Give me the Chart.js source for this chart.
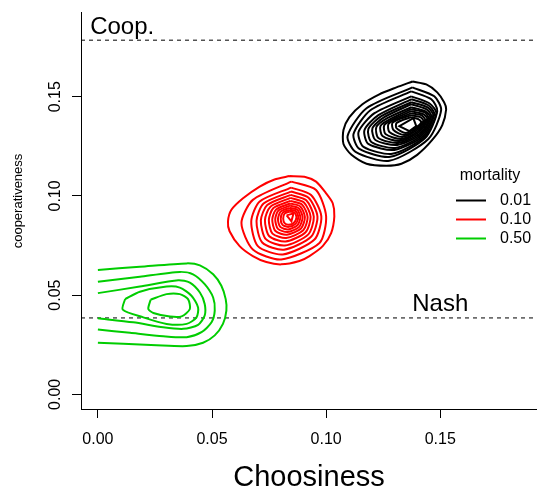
<!DOCTYPE html>
<html>
<head>
<meta charset="utf-8">
<script src="https://cdn.jsdelivr.net/npm/chart.js@4.4.1/dist/chart.umd.min.js"></script>
<style>
  html, body { margin: 0; padding: 0; background: #fff; }
</style>
</head>
<body>
<canvas id="graphiqueContours" width="537" height="490"></canvas>
<script>
// axes
const xRange = [-0.0074, 0.1924];
const yRange = [-0.0074, 0.1924];
const tickValues = [0, 0.05, 0.10, 0.15];
const tickLabels = ['0.00', '0.05', '0.10', '0.15'];

// reference lines
const coopLevel = 0.1785;
const nashLevel = 0.0385;

// legend
const mortalityLabels = ['0.01', '0.10', '0.50'];

// contour lines, mortality 0.01 (outer -> inner)
const blackRings = [
  [[.1378,.1577],[.1439,.1562],[.1487,.1522],[.1517,.1472],[.1526,.1437],[.1509,.1357],[.1465,.1282],[.1399,.1207],[.1330,.1162],[.1264,.1152],[.1177,.1162],[.1111,.1207],[.1076,.1262],[.1076,.1332],[.1102,.1397],[.1159,.1462],[.1233,.1512],[.1308,.1547]],
  [[.1378,.1547],[.1474,.1502],[.1504,.1432],[.1448,.1287],[.1277,.1177],[.1129,.1222],[.1094,.1302],[.1177,.1442]],
  [[.1373,.1527],[.1461,.1487],[.1487,.1427],[.1434,.1292],[.1281,.1197],[.1146,.1237],[.1120,.1312],[.1194,.1432]],
  [[.1373,.1502],[.1452,.1467],[.1483,.1417],[.1430,.1297],[.1290,.1212],[.1164,.1247],[.1142,.1322],[.1212,.1417]],
  [[.1373,.1487],[.1448,.1457],[.1474,.1412],[.1426,.1302],[.1299,.1232],[.1185,.1262],[.1168,.1332],[.1229,.1407]],
  [[.1373,.1472],[.1443,.1447],[.1469,.1407],[.1421,.1307],[.1303,.1242],[.1198,.1272],[.1185,.1337],[.1242,.1402]],
  [[.1373,.1462],[.1439,.1437],[.1461,.1402],[.1417,.1312],[.1312,.1257],[.1216,.1282],[.1203,.1342],[.1255,.1397]],
  [[.1373,.1447],[.1434,.1427],[.1456,.1397],[.1413,.1317],[.1316,.1267],[.1229,.1292],[.1220,.1347],[.1268,.1392]],
  [[.1373,.1437],[.1430,.1422],[.1448,.1392],[.1408,.1322],[.1321,.1277],[.1247,.1302],[.1238,.1352],[.1281,.1387]],
  [[.1373,.1427],[.1426,.1412],[.1443,.1387],[.1404,.1327],[.1330,.1287],[.1260,.1312],[.1255,.1357],[.1295,.1387]],
  [[.1373,.1417],[.1417,.1407],[.1434,.1382],[.1399,.1332],[.1334,.1297],[.1277,.1322],[.1273,.1362],[.1308,.1387]],
  [[.1373,.1407],[.1413,.1397],[.1426,.1377],[.1395,.1337],[.1343,.1307],[.1295,.1332],[.1290,.1367],[.1321,.1387]],
  [[.1373,.1397],[.1404,.1387],[.1417,.1372],[.1391,.1342],[.1347,.1317],[.1308,.1342],[.1308,.1367],[.1334,.1382]],
  [[.1382,.1392],[.1395,.1352],[.1365,.1327],[.1321,.1352]]
];

// contour lines, mortality 0.10
const redRings = [
  [[.0840,.1100],[.0905,.1097],[.0956,.1072],[.1000,.1013],[.1029,.0963],[.1036,.0897],[.1022,.0813],[.0985,.0747],[.0927,.0697],[.0883,.0672],[.0803,.0655],[.0738,.0667],[.0679,.0697],[.0621,.0747],[.0577,.0822],[.0570,.0872],[.0585,.0930],[.0636,.0988],[.0709,.1047],[.0774,.1083]],
  [[.0847,.1072],[.0956,.1030],[.1000,.0897],[.0971,.0763],[.0803,.0680],[.0679,.0730],[.0629,.0863],[.0679,.0980]],
  [[.0847,.1042],[.0934,.1005],[.0979,.0897],[.0949,.0780],[.0810,.0705],[.0701,.0747],[.0672,.0872],[.0709,.0972]],
  [[.0846,.1022],[.0923,.0991],[.0962,.0896],[.0934,.0794],[.0815,.0729],[.0720,.0765],[.0695,.0874],[.0726,.0962]],
  [[.0845,.1005],[.0913,.0978],[.0946,.0895],[.0922,.0806],[.0819,.0750],[.0736,.0782],[.0714,.0876],[.0742,.0954]],
  [[.0844,.0990],[.0903,.0967],[.0932,.0895],[.0910,.0817],[.0822,.0770],[.0751,.0797],[.0732,.0878],[.0756,.0946]],
  [[.0843,.0975],[.0895,.0956],[.0919,.0894],[.0900,.0827],[.0825,.0788],[.0765,.0810],[.0749,.0879],[.0769,.0939]],
  [[.0843,.0962],[.0887,.0947],[.0907,.0893],[.0890,.0836],[.0828,.0804],[.0778,.0823],[.0764,.0881],[.0781,.0932]],
  [[.0842,.0951],[.0880,.0938],[.0897,.0893],[.0882,.0844],[.0831,.0818],[.0789,.0834],[.0777,.0882],[.0791,.0926]],
  [[.0841,.0940],[.0874,.0930],[.0887,.0892],[.0874,.0852],[.0833,.0831],[.0799,.0844],[.0789,.0883],[.0801,.0921]],
  [[.0840,.0930],[.0868,.0923],[.0878,.0892],[.0866,.0859],[.0836,.0844],[.0809,.0854],[.0801,.0885],[.0810,.0916]],
  [[.0840,.0921],[.0862,.0916],[.0870,.0892],[.0859,.0865],[.0837,.0855],[.0818,.0863],[.0812,.0886],[.0818,.0911]],
  [[.0827,.0902],[.0857,.0912],[.0848,.0872]]
];

// contour lines, mortality 0.50 (the outer three are cut at choosiness 0)
const greenOpen = [
  [[0,.0627],[.0184,.0643],[.0389,.0660],[.0447,.0650],[.0505,.0605],[.0541,.0547],[.0560,.0480],[.0563,.0422],[.0548,.0355],[.0512,.0297],[.0461,.0260],[.0389,.0243],[.0257,.0247],[.0111,.0255],[0,.0260]],
  [[0,.0567],[.0184,.0593],[.0359,.0617],[.0417,.0605],[.0468,.0555],[.0505,.0488],[.0512,.0422],[.0498,.0363],[.0454,.0313],[.0389,.0288],[.0286,.0293],[.0141,.0310],[0,.0327]],
  [[0,.0510],[.0184,.0543],[.0352,.0575],[.0403,.0563],[.0447,.0513],[.0468,.0455],[.0468,.0397],[.0439,.0350],[.0374,.0330],[.0286,.0338],[.0155,.0363],[0,.0383]]
];
const greenClosed = [
  [[.0119,.0480],[.0184,.0517],[.0301,.0543],[.0359,.0538],[.0410,.0497],[.0439,.0438],[.0432,.0388],[.0389,.0355],[.0301,.0355],[.0199,.0388],[.0109,.0427]],
  [[.0231,.0477],[.0301,.0505],[.0359,.0505],[.0395,.0480],[.0403,.0430],[.0367,.0393],[.0316,.0392],[.0243,.0410],[.0221,.0430]]
];

const FONT = '"Liberation Sans", Arial, Helvetica, sans-serif';
const couleurs = ['#000000', '#ff0000', '#00cd00'];

const ligneContour = (ring, couleur, ferme) => {
  const pts = ring.map(p => ({ x: p[0], y: p[1] }));
  if (ferme) pts.push({ x: ring[0][0], y: ring[0][1] });
  return {
    data: pts,
    showLine: true,
    borderColor: couleur,
    borderWidth: 2,
    pointRadius: 0,
    pointHoverRadius: 0,
    tension: ring.length > 4 ? 0.25 : 0,
    fill: false
  };
};

const ligneRef = (niveau) => ({
  data: [{ x: xRange[0], y: niveau }, { x: xRange[1], y: niveau }],
  showLine: true,
  borderColor: '#000',
  borderWidth: 1,
  borderDash: [4, 4],
  pointRadius: 0,
  fill: false
});

const datasets = [
  ...blackRings.map(r => ligneContour(r, couleurs[0], true)),
  ...redRings.map(r => ligneContour(r, couleurs[1], true)),
  ...greenOpen.map(r => ligneContour(r, couleurs[2], false)),
  ...greenClosed.map(r => ligneContour(r, couleurs[2], true)),
  ligneRef(coopLevel),
  ligneRef(nashLevel)
];

// texts that R puts around the plot
const annotations = {
  id: 'annotations',
  afterDraw(chart) {
    const { ctx, chartArea } = chart;
    const x = chart.scales.x, y = chart.scales.y;
    ctx.save();
    ctx.fillStyle = '#000';

    // y tick labels, written along the axis
    ctx.font = '16px ' + FONT;
    ctx.textAlign = 'center';
    ctx.textBaseline = 'alphabetic';
    tickValues.forEach((v, i) => {
      ctx.save();
      ctx.translate(60, y.getPixelForValue(v));
      ctx.rotate(-Math.PI / 2);
      ctx.fillText(tickLabels[i], 0, 0);
      ctx.restore();
    });

    // Coop. / Nash
    ctx.font = '24px ' + FONT;
    ctx.textAlign = 'left';
    ctx.fillText('Coop.', x.getPixelForValue(-0.0034), y.getPixelForValue(0.1818));
    ctx.textAlign = 'center';
    ctx.fillText('Nash', x.getPixelForValue(0.15), y.getPixelForValue(0.0422));

    // axis titles
    ctx.font = '29px ' + FONT;
    ctx.fillText('Choosiness', (chartArea.left + chartArea.right) / 2, 486);
    ctx.save();
    ctx.translate(22, 201);
    ctx.rotate(-Math.PI / 2);
    ctx.font = '13px ' + FONT;
    ctx.fillText('cooperativeness', 0, 0);
    ctx.restore();

    // legend
    ctx.font = '16px ' + FONT;
    ctx.textBaseline = 'middle';
    ctx.fillText('mortality', 490, 176);
    ctx.textAlign = 'left';
    mortalityLabels.forEach((lab, i) => {
      const ly = 200.5 + i * 19;
      ctx.strokeStyle = couleurs[i];
      ctx.lineWidth = 2;
      ctx.beginPath();
      ctx.moveTo(456, ly);
      ctx.lineTo(486, ly);
      ctx.stroke();
      ctx.fillText(lab, 500, ly);
    });
    ctx.restore();
  }
};

const axeCommun = {
  type: 'linear',
  afterBuildTicks: s => { s.ticks = tickValues.map(v => ({ value: v })); },
  grid: { drawOnChartArea: false, drawTicks: true, tickLength: 9, tickColor: '#000', tickWidth: 1 },
  border: { display: true, color: '#000', width: 1 }
};

new Chart(document.getElementById('graphiqueContours'), {
  type: 'scatter',
  data: { datasets },
  options: {
    responsive: false,
    animation: false,
    devicePixelRatio: 1,
    layout: { padding: { top: 9, left: 0, right: 0, bottom: 0 } },
    plugins: { legend: { display: false }, tooltip: { enabled: false } },
    scales: {
      x: {
        ...axeCommun,
        min: xRange[0],
        max: xRange[1],
        afterFit: s => { s.height = 81; },
        ticks: {
          font: { family: FONT, size: 16 },
          color: '#000',
          padding: 12,
          maxRotation: 0,
          callback: (v, i) => tickLabels[i]
        }
      },
      y: {
        ...axeCommun,
        min: yRange[0],
        max: yRange[1],
        afterFit: s => { s.width = 81; },
        ticks: {
          font: { family: FONT, size: 16 },
          color: 'rgba(0,0,0,0)',
          callback: (v, i) => tickLabels[i]
        }
      }
    }
  },
  plugins: [annotations]
});
</script>
</body>
</html>
